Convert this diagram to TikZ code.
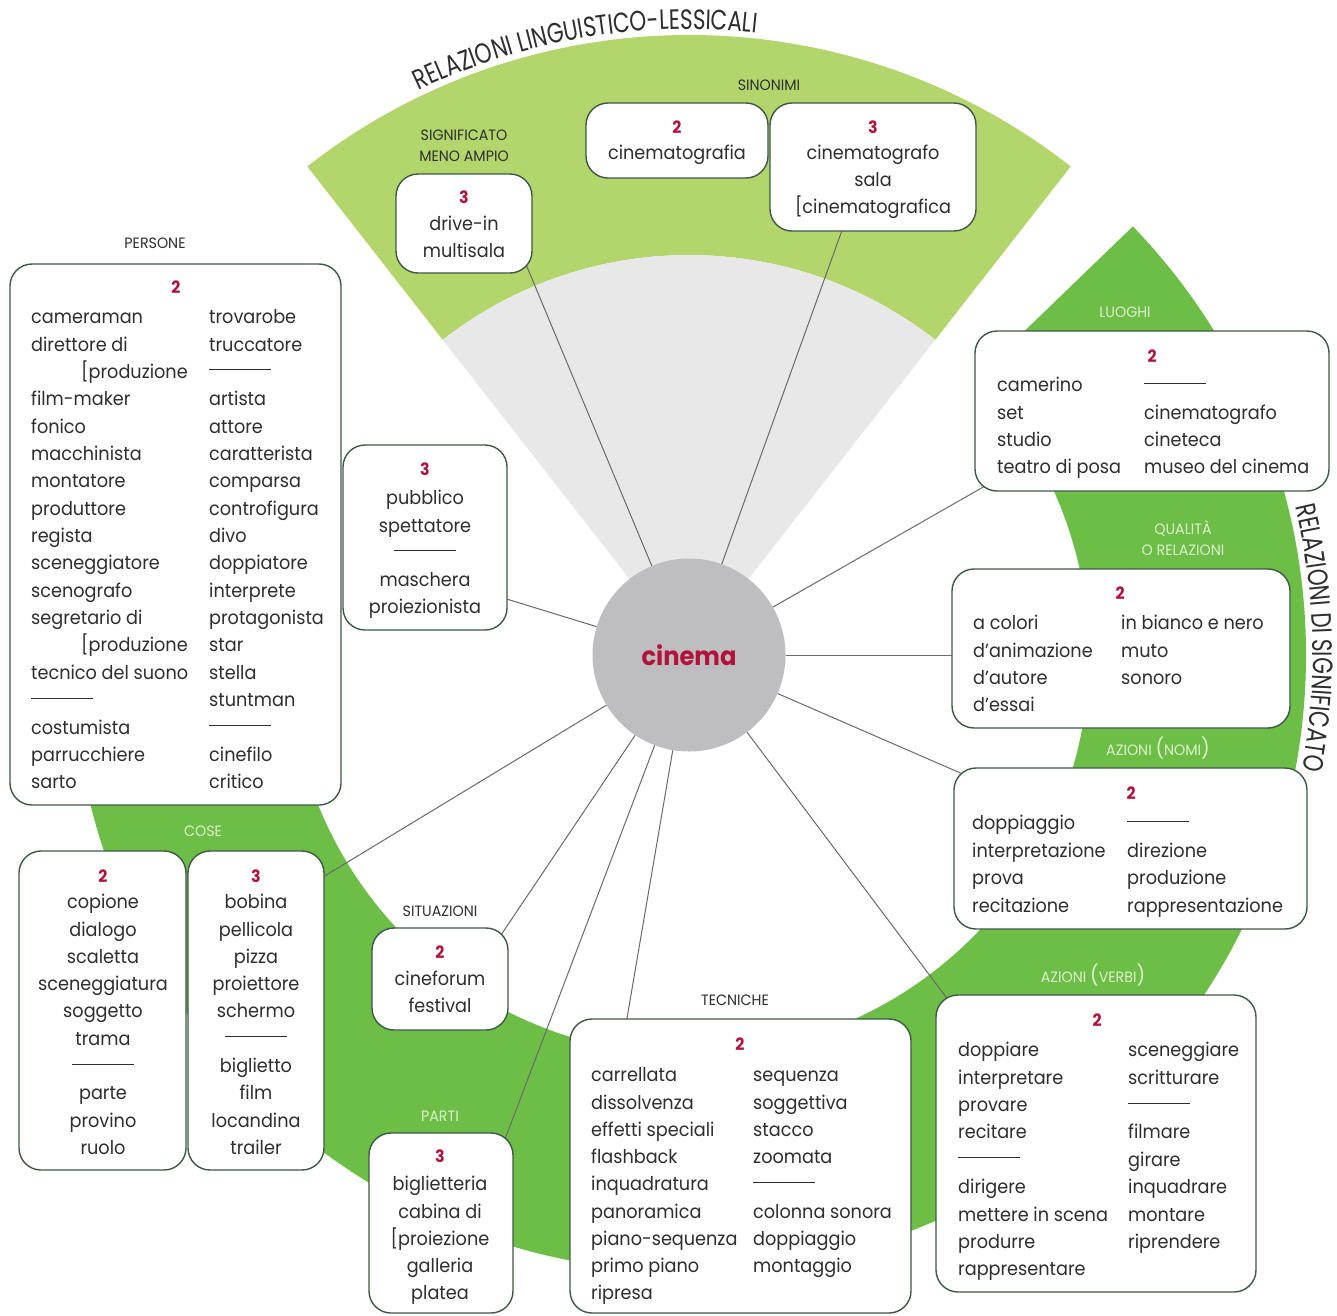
\documentclass[tikz,border=0pt]{standalone}
\usepackage{fontspec}
\setmainfont{Poppins}[FakeStretch=0.93]
\newfontfamily\titfont[FakeStretch=0.77]{Poppins}
\newfontfamily\labelfont[FakeStretch=0.95]{Poppins}
\usetikzlibrary{decorations.text}
\definecolor{dkgreen}{RGB}{108,190,70}
\definecolor{ltgreen}{RGB}{178,213,108}
\definecolor{ltgray}{RGB}{232,232,232}
\definecolor{cgray}{RGB}{190,190,192}
\definecolor{boxc}{RGB}{62,88,72}
\definecolor{pale}{RGB}{222,242,205}
\definecolor{txt}{RGB}{46,46,46}
\definecolor{crim}{RGB}{179,18,60}
\definecolor{connc}{RGB}{106,106,106}
\newcommand\mywfont{\fontsize{19}{22}\selectfont}
\newcommand\mynumfont{\bfseries\fontsize{17}{18}\selectfont}
\newcommand\mylabfont{\labelfont\fontsize{15}{21}\selectfont}
\newcommand\dl{\rule[\dimexpr0.5ex+3pt\relax]{62pt}{0.8pt}}
\newcommand\bigp[1]{{\fontsize{20}{20}\selectfont #1}}
\newcommand\mybox[5]{\node[box, minimum width={#4-#2}, minimum height={#5-#3}] (#1) at ({(#2+#4)/2},{(#3+#5)/2}) {};}
\newcommand\mycol[6]{\foreach \w [count=\i] in {#6} {\node[#2] (#1-\i) at (#3,{#4+#5*(\i-1)}) {\w};}}
\tikzset{
  box/.style={draw=boxc, line width=1.4pt, fill=white, rounded corners=22pt, inner sep=0pt, outer sep=0pt},
  wl/.style={anchor=mid west, yshift=-5pt, inner sep=0pt, text=txt, font=\mywfont},
  wc/.style={anchor=mid, yshift=-5pt, inner sep=0pt, text=txt, font=\mywfont},
  num/.style={inner sep=0pt, text=crim, font=\mynumfont},
  lab/.style={anchor=base, inner sep=0pt, text=txt, font=\mylabfont, align=center},
  labw/.style={lab, text=pale},
  conn/.style={draw=connc, line width=1pt}
}
\begin{document}
\begin{tikzpicture}[x=1pt,y=-1pt]
\useasboundingbox (0,0) rectangle (1337,1315);
\fill[white] (0,0) rectangle (1337,1315);
% background sectors
\begin{scope}[shift={(689,655)}]
  \fill[ltgreen] (52:400pt) -- (52:620pt) arc[start angle=52, end angle=128, radius=620pt] -- (128:400pt) arc[start angle=128, end angle=52, radius=400pt] -- cycle;
  \fill[ltgray] (0,0) -- (52:400pt) arc[start angle=52, end angle=128, radius=400pt] -- cycle;
  \fill[dkgreen] (44:400pt) -- (44:617pt) arc[start angle=44, end angle=-200, radius=617pt] -- (-200:400pt) arc[start angle=-200, end angle=44, radius=400pt] -- cycle;
  \path[decorate, decoration={text along path, text align=center,
      text={|\titfont\fontsize{28}{28}\selectfont\color{txt}|RELAZIONI LINGUISTICO-LESSICALI}}]
      (130:626pt) arc[start angle=130, end angle=69.4, radius=626pt];
  \path[decorate, decoration={text along path, text align=center,
      text={|\titfont\fontsize{28}{28}\selectfont\color{txt}|RELAZIONI DI SIGNIFICATO}}]
      (19.6:624pt) arc[start angle=19.6, end angle=-16.4, radius=624pt];
\end{scope}
% centre
\node[circle, fill=cgray, minimum size=193pt, inner sep=0pt, text=crim, font=\bfseries\fontsize{26}{26}\selectfont] (c) at (689,655) {cinema};
% connector ends
\coordinate (e-drive) at (520,250);
\coordinate (e-cgrafo) at (845,222);
\coordinate (e-luoghi) at (992,482);
\coordinate (e-qual) at (962,655);
\coordinate (e-nomi) at (965,775);
\coordinate (e-verbi) at (952,1005);
\coordinate (e-tecn) at (625,1030);
\coordinate (e-parti) at (502,1147);
\coordinate (e-sit) at (501,935);
\coordinate (e-coseR) at (318,880);
\coordinate (e-pubb) at (500,597);
\foreach \e in {drive,cgrafo,luoghi,qual,nomi,verbi,tecn,parti,sit,coseR,pubb} {\draw[conn] (c) -- (e-\e);}
% boxes
\mybox{bdrive}{396}{174}{532}{273}
\mybox{bcgrafia}{586}{103}{768}{178}
\mybox{bcgrafo}{770}{103}{976}{231}
\mybox{bpers}{10}{264}{341}{805}
\mybox{bpubb}{343}{445}{507}{630}
\mybox{bluoghi}{975}{331}{1329}{491}
\mybox{bqual}{952}{569}{1290}{728}
\mybox{bnomi}{954}{768}{1307}{929}
\mybox{bverbi}{936}{995}{1256}{1292}
\mybox{btecn}{570}{1019}{911}{1313}
\mybox{bparti}{369}{1133}{513}{1313}
\mybox{bsit}{372}{928}{508}{1030}
\mybox{bcoseL}{19}{851}{186}{1170}
\mybox{bcoseR}{188}{851}{324}{1170}
% labels
\node[lab] (l-sin) at (769,90) {SINONIMI};
\node[lab] (l-sig) at (464,161) {SIGNIFICATO\\MENO AMPIO};
\node[lab] (l-pers) at (155,248) {PERSONE};
\node[labw] (l-luo) at (1125,317) {LUOGHI};
\node[labw] (l-qual) at (1183,555) {QUALITÀ\\O RELAZIONI};
\node[labw] (l-nomi) at (1158,755) {AZIONI \bigp{(}NOMI\bigp{)}};
\node[labw] (l-verbi) at (1093,982) {AZIONI \bigp{(}VERBI\bigp{)}};
\node[lab] (l-tec) at (735,1005) {TECNICHE};
\node[lab] (l-sit) at (440,916) {SITUAZIONI};
\node[labw] (l-parti) at (440,1121) {PARTI};
\node[labw] (l-cose) at (203,836) {COSE};
% numbers
\node[num] (n-drive) at (464,197) {3};
\node[num] (n-cgrafia) at (677,127) {2};
\node[num] (n-cgrafo) at (873,127) {3};
\node[num] (n-pers) at (176,287) {2};
\node[num] (n-pubb) at (425,469) {3};
\node[num] (n-luoghi) at (1152,356) {2};
\node[num] (n-qual) at (1120,593) {2};
\node[num] (n-nomi) at (1131,793) {2};
\node[num] (n-verbi) at (1097,1020) {2};
\node[num] (n-tecn) at (740,1044) {2};
\node[num] (n-parti) at (440,1156) {3};
\node[num] (n-sit) at (440,952) {2};
\node[num] (n-coseL) at (103,876) {2};
\node[num] (n-coseR) at (256,876) {3};
% words
\mycol{wdrive}{wc}{464}{223}{27}{drive-in,multisala}
\mycol{wcgrafia}{wc}{677}{152}{27}{cinematografia}
\mycol{wcgrafo}{wc}{873}{152}{27}{cinematografo,sala,[cinematografica}
\mycol{wpersL}{wl}{31}{316}{27.35}{cameraman,direttore di,\hspace*{50pt}[produzione,film-maker,fonico,macchinista,montatore,produttore,regista,sceneggiatore,scenografo,segretario di,\hspace*{50pt}[produzione,tecnico del suono,\dl,costumista,parrucchiere,sarto}
\mycol{wpersR}{wl}{209}{316}{27.35}{trovarobe,truccatore,\dl,artista,attore,caratterista,comparsa,controfigura,divo,doppiatore,interprete,protagonista,star,stella,stuntman,\dl,cinefilo,critico}
\mycol{wpubb}{wc}{425}{497}{27.3}{pubblico,spettatore,\dl,maschera,proiezionista}
\mycol{wluoL}{wl}{997}{384}{27.3}{camerino,set,studio,teatro di posa}
\mycol{wluoR}{wl}{1144}{384}{27.3}{\dl,cinematografo,cineteca,museo del cinema}
\mycol{wqualL}{wl}{973}{622}{27.3}{a colori,d’animazione,d’autore,d’essai}
\mycol{wqualR}{wl}{1121}{622}{27.3}{in bianco e nero,muto,sonoro}
\mycol{wnomiL}{wl}{972}{822}{27.6}{doppiaggio,interpretazione,prova,recitazione}
\mycol{wnomiR}{wl}{1127}{822}{27.6}{\dl,direzione,produzione,rappresentazione}
\mycol{wverbiL}{wl}{958}{1049}{27.4}{doppiare,interpretare,provare,recitare,\dl,dirigere,mettere in scena,produrre,rappresentare}
\mycol{wverbiR}{wl}{1128}{1049}{27.4}{sceneggiare,scritturare,\dl,filmare,girare,inquadrare,montare,riprendere}
\mycol{wtecnL}{wl}{591}{1074}{27.25}{carrellata,dissolvenza,effetti speciali,flashback,inquadratura,panoramica,piano-sequenza,primo piano,ripresa}
\mycol{wtecnR}{wl}{753}{1074}{27.25}{sequenza,soggettiva,stacco,zoomata,\dl,colonna sonora,doppiaggio,montaggio}
\mycol{wparti}{wc}{440}{1183}{27.3}{biglietteria,cabina di,[proiezione,galleria,platea}
\mycol{wsit}{wc}{440}{978}{27}{cineforum,festival}
\mycol{wcoseL}{wc}{103}{901}{27.3}{copione,dialogo,scaletta,sceneggiatura,soggetto,trama,\dl,parte,provino,ruolo}
\mycol{wcoseR}{wc}{256}{901}{27.3}{bobina,pellicola,pizza,proiettore,schermo,\dl,biglietto,film,locandina,trailer}
\end{tikzpicture}
\end{document}
